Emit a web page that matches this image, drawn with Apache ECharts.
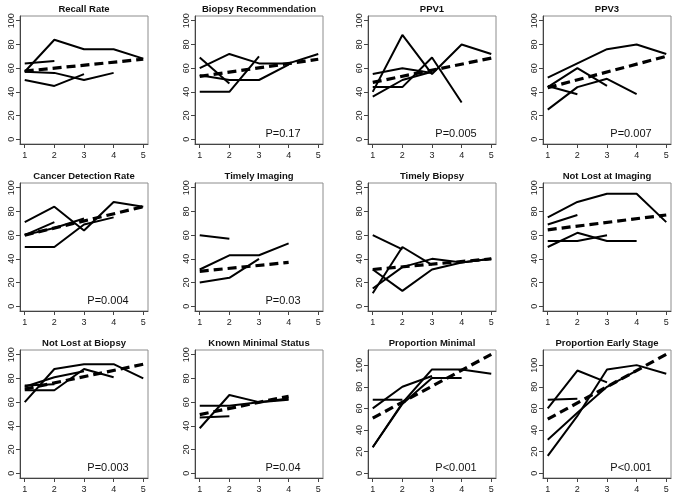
<!DOCTYPE html>
<html>
<head>
<meta charset="utf-8">
<script src="https://cdn.jsdelivr.net/npm/echarts@6/dist/echarts.min.js"></script>
<style>
  html, body { margin: 0; padding: 0; background: #fff; }
  #main { width: 678px; height: 498px; }
</style>
</head>
<body>
<div id="main"></div>
<script>
// panel titles and p values
var titles = ['Recall Rate', 'Biopsy Recommendation', 'PPV1', 'PPV3',
  'Cancer Detection Rate', 'Timely Imaging', 'Timely Biopsy', 'Not Lost at Imaging',
  'Not Lost at Biopsy', 'Known Minimal Status', 'Proportion Minimal', 'Proportion Early Stage'];
var pLabels = ['', 'P=0.17', 'P=0.005', 'P=0.007', 'P=0.004', 'P=0.03', '', '', 'P=0.003', 'P=0.04', 'P<0.001', 'P<0.001'];

var timePoints = [1, 2, 3, 4, 5];
var yTicks = [0, 20, 40, 60, 80, 100];

// solid lines: one row per site, values at time 1..n
var recallRate = [[57, 84, 76, 76, 68], [64, 66], [57, 56, 50, 56], [50, 45, 55]];
var biopsyRec = [[60, 72, 64, 64, 72], [69, 47], [54, 50, 50, 63], [40, 40, 70]];
var ppv1 = [[40, 88, 55, 80, 72], [55, 60, 56], [44, 44, 69, 31], [36, 50, 57]];
var ppv3 = [[52, 64, 76, 80, 72], [44, 60, 45], [45, 38], [25, 44, 51, 38]];
var cancerDetection = [[71, 84, 64, 88, 84], [60, 71], [50, 50, 69, 75], [60, 66, 74]];
var timelyImaging = [[60, 57], [31, 43, 43, 53], [20, 24, 40]];
var timelyBiopsy = [[60, 48], [11, 50, 35], [31, 13, 31, 37, 40], [15, 33, 40, 37, 40]];
var notLostImaging = [[75, 88, 95, 95, 71], [69, 77], [55, 55, 60], [50, 62, 55, 55]];
var notLostBiopsy = [[60, 88, 92, 92, 80], [70, 70, 88, 81], [73, 81, 86], [74, 75]];
var knownMinimal = [[57, 57, 60, 63], [38, 66, 60, 62], [47, 48]];
var propMinimal = [[68, 68], [60, 80, 90], [24, 65, 96, 96, 92], [24, 64, 88, 88]];
var propEarly = [[68, 69], [60, 95, 84], [31, 56, 80, 95], [16, 53, 96, 100, 92]];

// dashed trend: value at time 1, value at last time, last time
var trendStart = [57.5, 53, 48, 43.5, 60, 29.5, 31, 64.5, 71, 49.5, 51, 50];
var trendEnd = [67.5, 67.5, 68.5, 70, 84, 37, 40, 77, 92, 65, 110, 110];
var trendLastX = [5, 5, 5, 5, 5, 4, 5, 5, 5, 4, 5, 5];
var yMax = [104, 104, 104, 104, 104, 104, 104, 104, 104, 104, 114, 114];

var panels = [recallRate, biopsyRec, ppv1, ppv3, cancerDetection, timelyImaging,
  timelyBiopsy, notLostImaging, notLostBiopsy, knownMinimal, propMinimal, propEarly];

// layout (note: no global "top", it clashes with window.top)
var colLeft = [20, 195, 368, 543];
var rowTop = [16, 183, 350];
var boxW = 128, boxH = 128;
var font = 'Liberation Sans, Arial, sans-serif';

var grids = [], xAxes = [], yAxes = [], series = [], graphics = [];

for (var i = 0; i < 12; i++) {
  var gLeft = colLeft[i % 4], gTop = rowTop[Math.floor(i / 4)];
  var yMin = yMax[i] === 104 ? -4 : -4.4;
  grids.push({ left: gLeft, top: gTop, width: boxW, height: boxH, show: true,
    borderColor: '#8c8c8c', borderWidth: 1 });
  xAxes.push({ type: 'value', gridIndex: i, min: 0.84, max: 5.16,
    splitLine: { show: false },
    axisLine: { show: true, onZero: false, lineStyle: { color: '#444', width: 1 } },
    axisTick: { show: true, length: 4, customValues: timePoints, lineStyle: { color: '#444' } },
    axisLabel: { customValues: timePoints, fontSize: 9, color: '#222', margin: 7, fontFamily: font }
  });
  yAxes.push({ type: 'value', gridIndex: i, min: yMin, max: yMax[i],
    splitLine: { show: false },
    axisLine: { show: true, onZero: false, lineStyle: { color: '#444', width: 1 } },
    axisTick: { show: true, length: 4, customValues: yTicks, lineStyle: { color: '#444' } },
    axisLabel: { customValues: yTicks, fontSize: 9, color: '#222', rotate: 90, margin: 4, fontFamily: font }
  });

  var sites = panels[i];
  for (var s = 0; s < sites.length; s++) {
    var pts = [];
    for (var t = 0; t < sites[s].length; t++) pts.push([timePoints[t], sites[s][t]]);
    series.push({ type: 'line', xAxisIndex: i, yAxisIndex: i, data: pts, symbol: 'none',
      silent: true, lineStyle: { color: '#000', width: 2 }, z: 3 });
  }
  series.push({ type: 'line', xAxisIndex: i, yAxisIndex: i, symbol: 'none', silent: true,
    data: [[1, trendStart[i]], [trendLastX[i], trendEnd[i]]],
    lineStyle: { color: '#000', width: 3.2, type: [9, 5] }, z: 4 });

  graphics.push({ type: 'text', x: gLeft + boxW / 2, y: gTop - 7,
    style: { text: titles[i], align: 'center', verticalAlign: 'middle',
      fontSize: 9.5, fontWeight: 'bold', fill: '#111', fontFamily: font } });
  if (pLabels[i]) {
    graphics.push({ type: 'text', x: gLeft + boxW - 40, y: gTop + boxH - 10,
      style: { text: pLabels[i], align: 'center', verticalAlign: 'middle',
        fontSize: 11, fill: '#111', fontFamily: font } });
  }
}

var chart = echarts.init(document.getElementById('main'), null, { renderer: 'canvas' });
chart.setOption({
  backgroundColor: '#fff',
  animation: false,
  grid: grids,
  xAxis: xAxes,
  yAxis: yAxes,
  series: series,
  graphic: graphics
});
</script>
</body>
</html>
